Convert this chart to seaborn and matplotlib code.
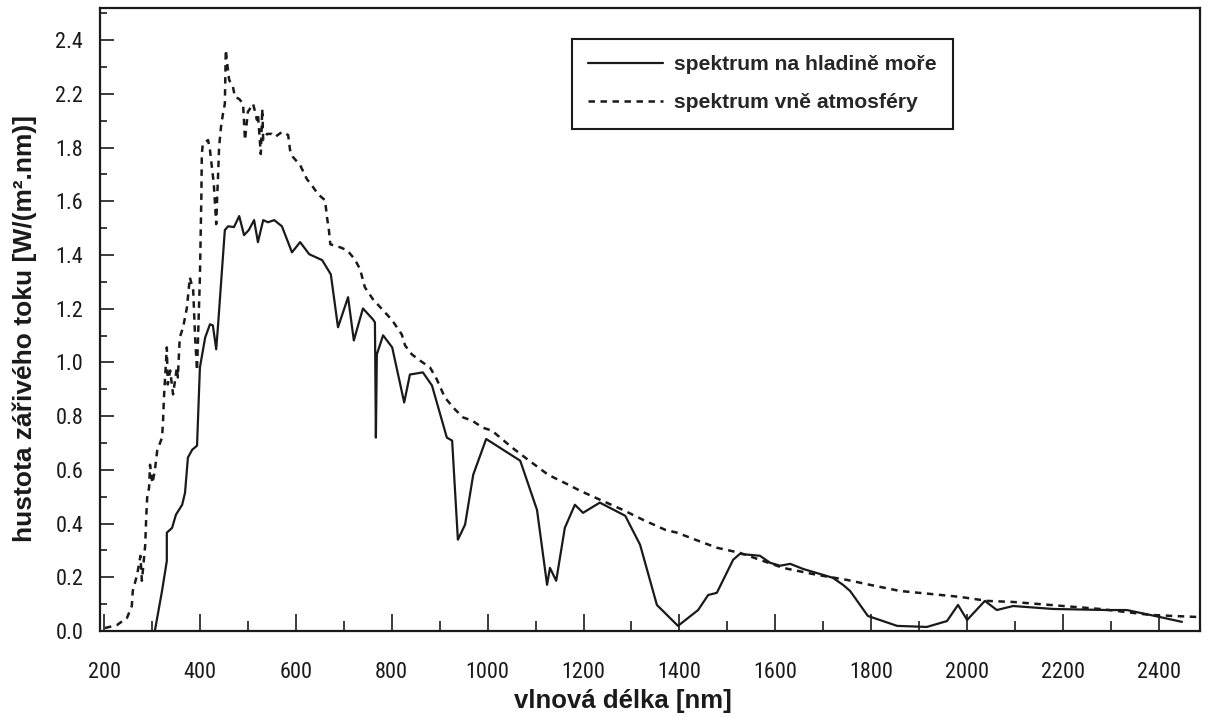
import matplotlib
matplotlib.use("Agg")
import matplotlib.pyplot as plt
from matplotlib import font_manager
from matplotlib.ticker import MultipleLocator
import seaborn as sns
import pandas as pd
import numpy as np

# sea level spectrum (solid)
sea_nm = [306, 321, 331, 331, 342, 350, 363, 369, 375, 384, 394, 400, 411, 421, 427, 434,
          438, 446, 452, 459, 471, 482, 492, 502, 513, 521, 532, 542, 555, 571, 592, 609,
          628, 655, 673, 688, 709, 721, 740, 761, 765, 767, 769, 782, 801, 826, 838, 865,
          884, 915, 926, 938, 953, 970, 997, 1068, 1103, 1124, 1130, 1143, 1161, 1182, 1199,
          1234, 1287, 1318, 1353, 1397, 1439, 1460, 1478, 1512, 1526, 1568, 1589, 1610, 1631,
          1658, 1720, 1741, 1756, 1793, 1854, 1916, 1958, 1981, 2000, 2037, 2062, 2096, 2179,
          2292, 2333, 2381, 2448]
sea_val = [0.0, 0.149, 0.261, 0.366, 0.384, 0.433, 0.470, 0.515, 0.646, 0.675, 0.690, 0.981,
           1.093, 1.142, 1.138, 1.049, 1.142, 1.343, 1.493, 1.507, 1.504, 1.545, 1.474, 1.493,
           1.530, 1.448, 1.530, 1.522, 1.530, 1.507, 1.410, 1.448, 1.403, 1.381, 1.328, 1.131,
           1.243, 1.082, 1.201, 1.160, 1.149, 0.720, 1.030, 1.101, 1.056, 0.851, 0.955, 0.963,
           0.914, 0.720, 0.709, 0.340, 0.396, 0.582, 0.715, 0.634, 0.451, 0.172, 0.235, 0.187,
           0.384, 0.470, 0.440, 0.478, 0.429, 0.321, 0.097, 0.019, 0.078, 0.134, 0.142, 0.265,
           0.287, 0.280, 0.254, 0.243, 0.250, 0.231, 0.198, 0.172, 0.149, 0.056, 0.019, 0.015,
           0.037, 0.097, 0.041, 0.112, 0.078, 0.093, 0.082, 0.078, 0.078, 0.060, 0.034]

# spectrum outside the atmosphere (dashed)
space_nm = [202, 227, 248, 258, 260, 269, 276, 279, 281, 286, 288, 290, 294, 296, 301, 306,
            311, 321, 323, 325, 331, 333, 338, 344, 352, 354, 358, 365, 373, 379, 386, 390,
            394, 400, 403, 404, 406, 417, 421, 429, 434, 436, 438, 440, 444, 448, 452, 454,
            457, 461, 469, 473, 482, 490, 494, 500, 511, 519, 521, 527, 530, 532, 540, 550,
            557, 571, 584, 588, 594, 609, 623, 636, 646, 661, 665, 669, 672, 692, 707, 723,
            734, 744, 761, 780, 801, 821, 828, 842, 859, 880, 894, 911, 932, 949, 967, 990,
            1009, 1051, 1084, 1126, 1168, 1193, 1234, 1282, 1324, 1370, 1395, 1439, 1478,
            1526, 1616, 1687, 1750, 1797, 1860, 1923, 1985, 2042, 2096, 2277, 2381, 2429, 2482]
space_val = [0.011, 0.022, 0.049, 0.093, 0.149, 0.209, 0.280, 0.187, 0.224, 0.321, 0.422,
             0.496, 0.534, 0.619, 0.550, 0.597, 0.672, 0.720, 0.776, 0.869, 1.056, 0.918,
             0.970, 0.881, 0.981, 0.944, 1.093, 1.131, 1.205, 1.317, 1.269, 1.093, 0.970,
             1.317, 1.616, 1.776, 1.813, 1.828, 1.791, 1.664, 1.515, 1.616, 1.701, 1.802,
             1.877, 1.925, 1.963, 2.164, 2.112, 2.052, 2.026, 1.989, 1.981, 1.963, 1.828,
             1.933, 1.963, 1.903, 1.925, 1.776, 1.944, 1.828, 1.851, 1.851, 1.840, 1.858,
             1.847, 1.791, 1.765, 1.735, 1.683, 1.653, 1.627, 1.604, 1.541, 1.493, 1.440,
             1.429, 1.418, 1.384, 1.347, 1.280, 1.235, 1.198, 1.157, 1.104, 1.063, 1.030,
             1.007, 0.981, 0.937, 0.869, 0.825, 0.795, 0.784, 0.757, 0.746, 0.683, 0.638,
             0.582, 0.545, 0.522, 0.489, 0.451, 0.414, 0.377, 0.366, 0.336, 0.310, 0.291,
             0.235, 0.209, 0.190, 0.172, 0.149, 0.138, 0.127, 0.112, 0.108, 0.082, 0.060,
             0.056, 0.052]

x_ticks = list(range(200, 2401, 200))
y_ticks = [0.0, 0.2, 0.4, 0.6, 0.8, 1.0, 1.2, 1.4, 1.6, 1.8, 2.0, 2.2]
y_tick_labels = ["0.0", "0.2", "0.4", "0.6", "0.8", "1.0", "1.2", "1.4", "1.6", "1.8", "2.2", "2.4"]

sea_df = pd.DataFrame({"nm": sea_nm, "val": sea_val})
space_df = pd.DataFrame({"nm": space_nm, "val": space_val})

sns.set_style("white")
plt.rcParams["font.family"] = ["Liberation Sans", "DejaVu Sans"]

# narrow face for the tick numbers if there is one, else plain Liberation a bit smaller
installed = {f.name for f in font_manager.fontManager.ttflist}
narrow = next((n for n in ["Liberation Sans Narrow", "Arial Narrow", "Roboto Condensed"] if n in installed), None)
if narrow:
    tick_font = dict(fontfamily=[narrow, "DejaVu Sans"], fontsize=16)
else:
    tick_font = dict(fontsize=14)

fig = plt.figure(figsize=(12.08, 7.18), dpi=100)
ax = fig.add_axes([0.0828, 0.1212, 0.9106, 0.8677])

ink = "#1a1a1a"
sns.lineplot(data=sea_df, x="nm", y="val", sort=False, estimator=None, ax=ax,
             color=ink, linewidth=1.6, label="spektrum na hladině moře")
sns.lineplot(data=space_df, x="nm", y="val", sort=False, estimator=None, ax=ax,
             color=ink, linewidth=1.8, linestyle=(0, (2.6, 2.2)), label="spektrum vně atmosféry")

ax.set_xlim(191.7, 2485.7)
ax.set_ylim(0, 2.32)

ax.set_xticks(x_ticks)
ax.set_xticklabels([str(t) for t in x_ticks], color="#333333", **tick_font)
ax.xaxis.set_minor_locator(MultipleLocator(100))
ax.set_yticks(y_ticks)
ax.set_yticklabels(y_tick_labels, color="#333333", **tick_font)
ax.yaxis.set_minor_locator(MultipleLocator(0.1))

ax.tick_params(which="both", direction="in", bottom=True, left=True, top=False, right=False,
               colors=ink, width=1.2)
ax.tick_params(axis="x", which="major", length=12, pad=22)
ax.tick_params(axis="x", which="minor", length=7)
ax.tick_params(axis="y", which="major", length=10, pad=12)
ax.tick_params(axis="y", which="minor", length=5)

for s in ax.spines.values():
    s.set_visible(True)
    s.set_color(ink)
    s.set_linewidth(1.6)

ax.set_xlabel("vlnová délka [nm]", fontsize=18.5, fontweight="bold", color=ink)
ax.xaxis.label.set_va("center")
ax.xaxis.set_label_coords(0.475, -0.112)
ax.set_ylabel("hustota zářivého toku [W/(m².nm)]", fontsize=19, fontweight="bold", color=ink)
ax.yaxis.label.set_va("center")
ax.yaxis.set_label_coords(-0.068, 0.485)

leg = ax.legend(loc="upper left", bbox_to_anchor=(0.429, 0.9504), borderaxespad=0,
                frameon=True, fancybox=False, shadow=False, framealpha=1, edgecolor=ink,
                handlelength=3.55, handletextpad=0.5, labelspacing=0.9, borderpad=0.78,
                prop={"weight": "bold", "size": 15.2})
leg.get_frame().set_linewidth(1.5)

fig.savefig("out.png", dpi=100)
